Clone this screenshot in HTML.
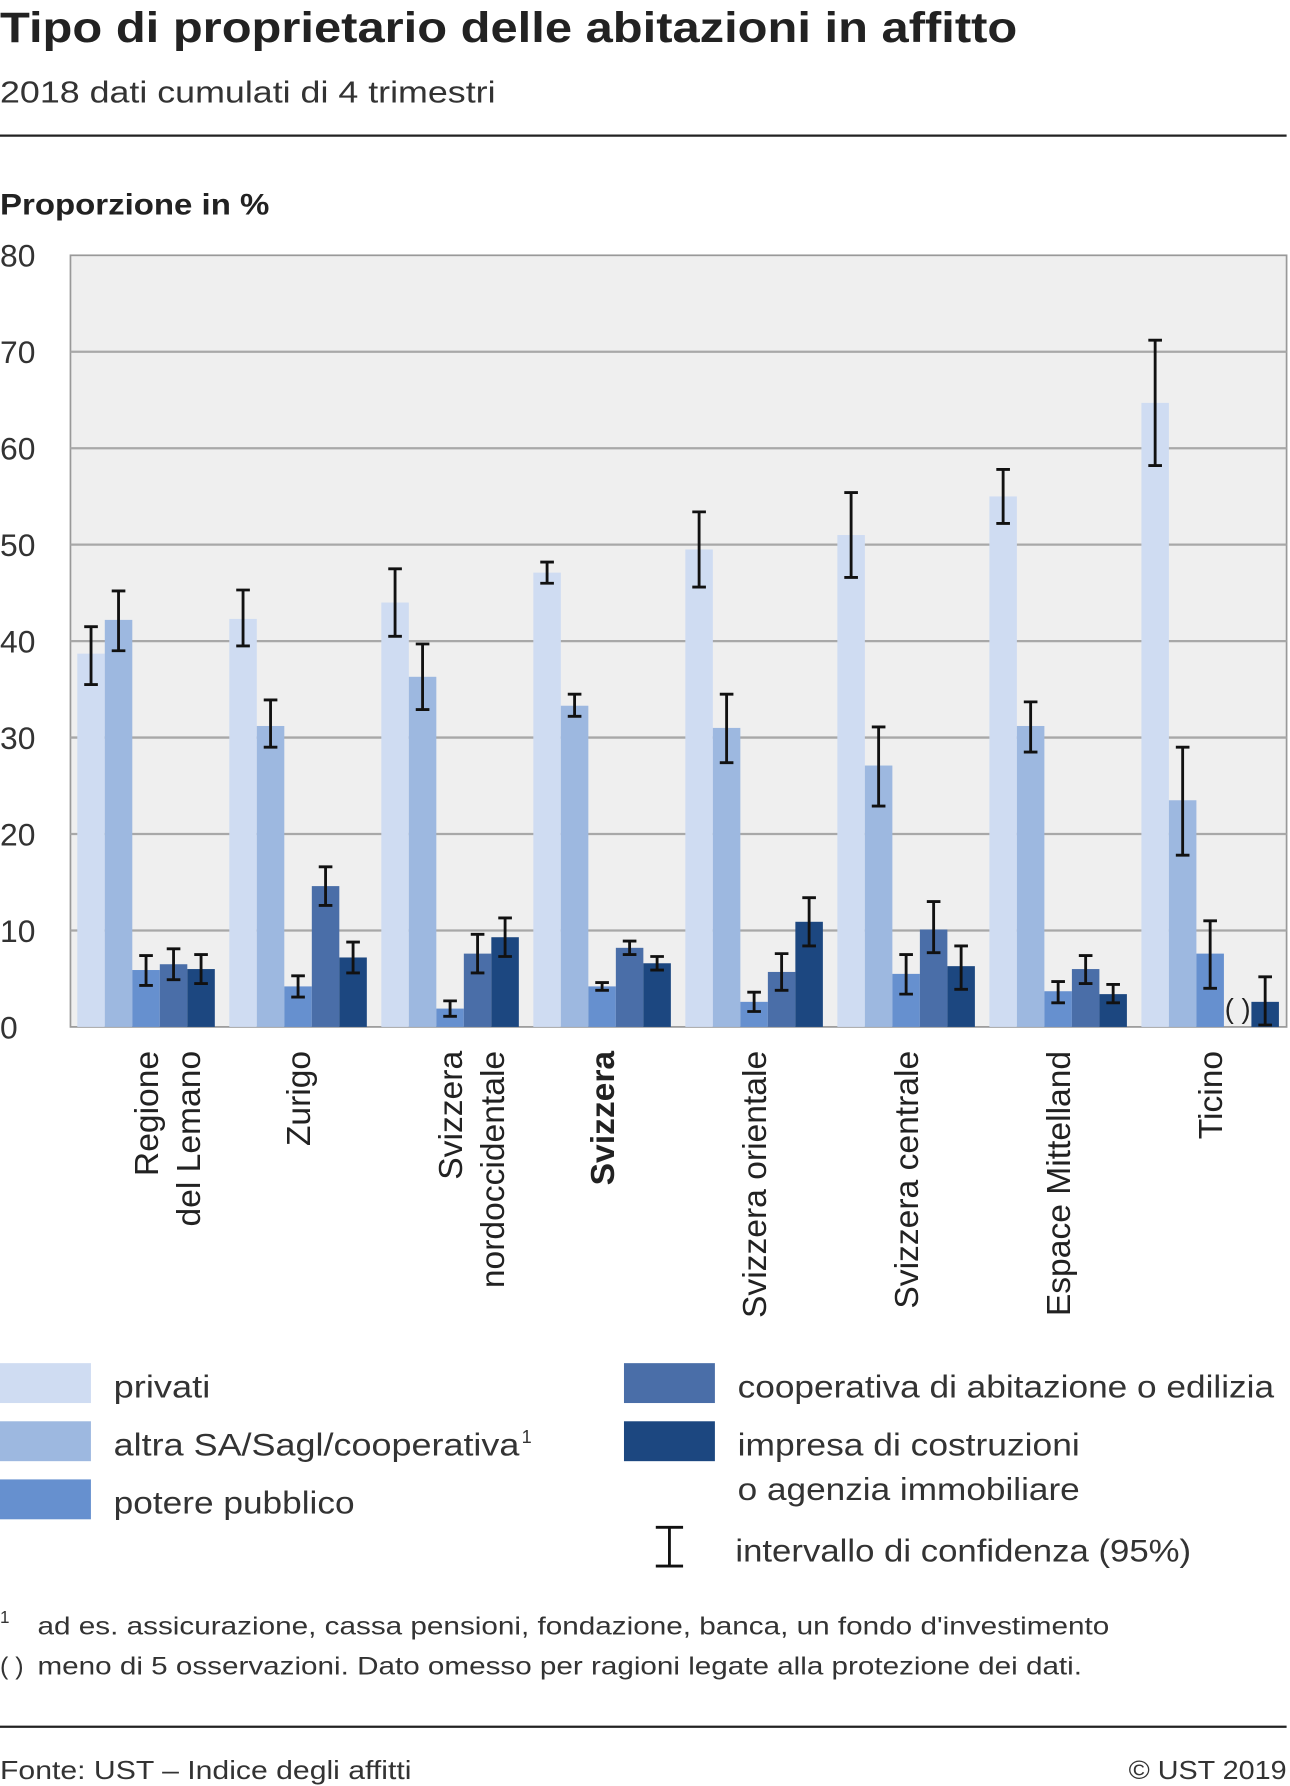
<!DOCTYPE html>
<html><head><meta charset="utf-8"><style>
html,body{margin:0;padding:0;background:#fff}
svg{display:block;font-family:"Liberation Sans",sans-serif}
</style></head><body>
<svg id="c" width="1290" height="1786" viewBox="0 0 1135 1567" preserveAspectRatio="none" xmlns="http://www.w3.org/2000/svg">
<text x="0" y="37" font-size="37" font-weight="bold" fill="#222" textLength="895" lengthAdjust="spacingAndGlyphs">Tipo di proprietario delle abitazioni in affitto</text>
<text x="0" y="90" font-size="27" fill="#333" textLength="436" lengthAdjust="spacingAndGlyphs">2018 dati cumulati di 4 trimestri</text>
<line x1="0" y1="119" x2="1132" y2="119" stroke="#222" stroke-width="2"/>
<text x="0" y="188" font-size="26" font-weight="bold" fill="#222" textLength="237" lengthAdjust="spacingAndGlyphs">Proporzione in %</text>
<rect x="62" y="224" width="1070" height="677" fill="#efefef" stroke="#999" stroke-width="1.5"/>
<g id="grid"></g><g id="bars"></g><g id="xl"></g>
<g font-size="28" fill="#333">
<rect x="0" y="1196" width="80" height="35" fill="#cfdcf2"/>
<text x="100" y="1226" textLength="85" lengthAdjust="spacingAndGlyphs">privati</text>
<rect x="0" y="1247" width="80" height="35" fill="#9db8e0"/>
<text x="100" y="1277" textLength="357" lengthAdjust="spacingAndGlyphs">altra SA/Sagl/cooperativa</text>
<text x="459" y="1266" font-size="16">1</text>
<rect x="0" y="1298" width="80" height="35" fill="#6690cf"/>
<text x="100" y="1328" textLength="212" lengthAdjust="spacingAndGlyphs">potere pubblico</text>
<rect x="549" y="1196" width="80" height="35" fill="#4a6ea8"/>
<text x="649" y="1226" textLength="472" lengthAdjust="spacingAndGlyphs">cooperativa di abitazione o edilizia</text>
<rect x="549" y="1247" width="80" height="35" fill="#1c4780"/>
<text x="649" y="1277" textLength="301" lengthAdjust="spacingAndGlyphs">impresa di costruzioni</text>
<text x="649" y="1316" textLength="301" lengthAdjust="spacingAndGlyphs">o agenzia immobiliare</text>
<path d="M577 1340h24M589 1340v34M577 1374h24" stroke="#111" stroke-width="2.5" fill="none"/>
<text x="647" y="1370" textLength="401" lengthAdjust="spacingAndGlyphs">intervallo di confidenza (95%)</text>
</g>
<g font-size="22" fill="#333">
<text x="0" y="1424" font-size="15">1</text>
<text x="33" y="1434" textLength="943" lengthAdjust="spacingAndGlyphs">ad es. assicurazione, cassa pensioni, fondazione, banca, un fondo d'investimento</text>
<text x="0" y="1469">( )</text>
<text x="33" y="1469" textLength="919" lengthAdjust="spacingAndGlyphs">meno di 5 osservazioni. Dato omesso per ragioni legate alla protezione dei dati.</text>
</g>
<line x1="0" y1="1515" x2="1132" y2="1515" stroke="#222" stroke-width="2"/>
<text x="0" y="1561" font-size="23" fill="#333" textLength="362" lengthAdjust="spacingAndGlyphs">Fonte: UST – Indice degli affitti</text>
<text x="993" y="1561" font-size="23" fill="#333" textLength="139" lengthAdjust="spacingAndGlyphs">© UST 2019</text>
</svg>
<script>
const regions=[["Regione","del Lemano"],["Zurigo"],["Svizzera","nordoccidentale"],["Svizzera"],["Svizzera orientale"],["Svizzera centrale"],["Espace Mittelland"],["Ticino"]];
const seriesNames=["privati","altra","potere","coop","impresa"];
const privati=[38.7,42.3,44.0,47.1,49.5,51.0,55.0,64.7];
const privatiLo=[35.5,39.5,40.5,46.0,45.6,46.6,52.2,58.2];
const privatiHi=[41.5,45.3,47.5,48.2,53.4,55.4,57.8,71.2];
const altra=[42.2,31.2,36.3,33.3,31.0,27.1,31.2,23.5];
const altraLo=[39.0,29.0,32.9,32.2,27.4,22.9,28.5,17.8];
const altraHi=[45.2,33.9,39.7,34.5,34.5,31.1,33.7,29.0];
const potere=[5.9,4.2,1.9,4.2,2.6,5.5,3.7,7.6];
const potereLo=[4.3,3.1,1.1,3.8,1.6,3.4,2.5,4.0];
const potereHi=[7.4,5.3,2.7,4.6,3.6,7.5,4.7,11.0];
const coop=[6.5,14.6,7.6,8.2,5.7,10.1,6.0,null];
const coopLo=[4.9,12.6,5.6,7.5,3.8,7.7,4.5,null];
const coopHi=[8.1,16.6,9.6,8.9,7.6,13.0,7.4,null];
const impresa=[6.0,7.2,9.3,6.6,10.9,6.3,3.4,2.6];
const impresaLo=[4.5,5.6,7.3,5.9,8.4,3.9,2.5,0.2];
const impresaHi=[7.5,8.8,11.3,7.3,13.4,8.4,4.4,5.2];
const yTicks=[0,10,20,30,40,50,60,70,80];
const colors=["#cfdcf2","#9db8e0","#6690cf","#4a6ea8","#1c4780"];
const vals=[privati,altra,potere,coop,impresa],los=[privatiLo,altraLo,potereLo,coopLo,impresaLo],his=[privatiHi,altraHi,potereHi,coopHi,impresaHi];
const NS="http://www.w3.org/2000/svg";
const X0=62,X1=1132,Y0=901,Y1=224;
const y=v=>Y0-(v/80)*(Y0-Y1);
const gw=(X1-X0)/regions.length,bw=24.2;
function mk(t,a,p){const e=document.createElementNS(NS,t);for(const k in a)e.setAttribute(k,a[k]);p.appendChild(e);return e;}
const grid=document.getElementById('grid'),bars=document.getElementById('bars'),xl=document.getElementById('xl'),svg=document.getElementById('c');
yTicks.forEach(t=>{
  if(t>0&&t<80){const l=mk('line',{x1:X0,x2:X1,y1:y(t),y2:y(t),stroke:'#a8a8a8','stroke-width':2},grid);
  
  }
  const tx=mk('text',{x:0,y:y(t)+10,'font-size':28,fill:'#333'},svg);tx.textContent=t;
  
  
});
regions.forEach((r,i)=>{
  const gx=X0+i*gw+6;
  vals.forEach((s,j)=>{
    const bx=gx+j*bw;
    if(s[i]==null){
      const p=mk('text',{x:bx+bw/2,y:y(0)-8,'font-size':24,fill:'#222','text-anchor':'middle'},bars);p.textContent='( )';
      
      
      return;}
    const b=mk('rect',{x:bx,y:y(s[i]),width:bw,height:y(0)-y(s[i]),fill:colors[j]},bars);
    
    
    const cx=bx+bw/2,lo=y(los[j][i]),hi=y(his[j][i]);
    const e=mk('path',{d:`M${cx-6} ${hi}h12M${cx} ${hi}V${lo}M${cx-6} ${lo}h12`,stroke:'#111','stroke-width':2.5,fill:'none'},bars);
    
    
  });
  const cx=X0+i*gw+gw/2;
  r.forEach((line,k)=>{
    const lx=cx+k*37+10;
    const t=mk('text',{x:lx,y:922,'font-size':29.5,fill:'#222','text-anchor':'end',transform:`rotate(-90 ${lx} 922)`,'font-weight':i==3?'bold':'normal'},xl);
    t.textContent=line;
    
    
  });
});
</script>
</body></html>
